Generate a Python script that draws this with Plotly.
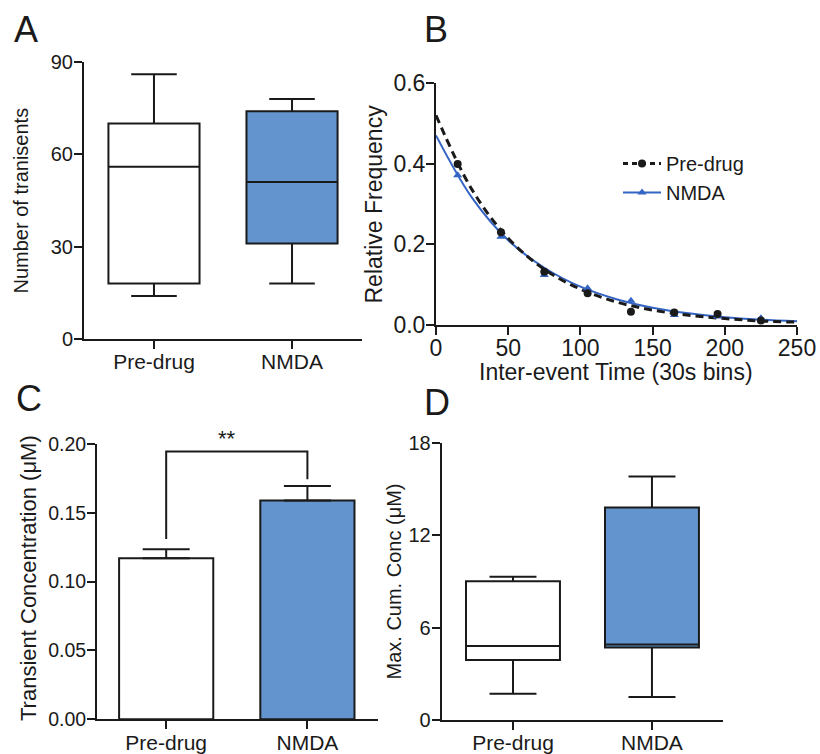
import plotly.graph_objects as go

# ---------------- data ----------------
categories = ["Pre-drug", "NMDA"]

# Panel A: box stats (Number of transients)
a_q1 = [18, 31]
a_median = [56, 51]
a_q3 = [70, 74]
a_low = [14, 18]
a_high = [86, 78]

# Panel B: inter-event time histogram + exponential fits
b_bins = [15, 45, 75, 105, 135, 165, 195, 225]
b_pre = [0.399, 0.230, 0.132, 0.079, 0.033, 0.031, 0.027, 0.011]
b_nmda = [0.371, 0.219, 0.124, 0.091, 0.060, 0.025, 0.021, 0.017]
fit_x = [0, 25, 50, 75, 100, 125, 150, 175, 200, 225, 250]
fit_pre = [0.52, 0.335, 0.215, 0.138, 0.089, 0.057, 0.037, 0.024, 0.016, 0.010, 0.007]
fit_nmda = [0.47, 0.315, 0.21, 0.142, 0.095, 0.064, 0.043, 0.029, 0.019, 0.013, 0.009]

# Panel C: mean +/- SEM transient concentration
c_mean = [0.117, 0.159]
c_sem = [0.0065, 0.0105]
bracket_y = [0.131, 0.1945, 0.1945, 0.1744]

# Panel D: box stats (Max cumulative concentration)
d_q1 = [3.9, 4.7]
d_median = [4.8, 4.9]
d_q3 = [9.0, 13.8]
d_low = [1.7, 1.5]
d_high = [9.3, 15.8]

# ---------------- styles ----------------
W, H = 820, 754
FONT = "Liberation Sans, Arial, sans-serif"
INK = "#1a1a1a"
BLUE_FILL = "#6394cd"
BLUE_LINE = "#3464c4"
fills = ["white", BLUE_FILL]


def px_x(p):
    return p / W


def px_y(p):
    return 1 - p / H


fig = go.Figure()

# Panel A boxes
for i in range(2):
    fig.add_trace(go.Box(
        x=[i], q1=[a_q1[i]], median=[a_median[i]], q3=[a_q3[i]],
        lowerfence=[a_low[i]], upperfence=[a_high[i]],
        width=0.66, whiskerwidth=0.5, fillcolor=fills[i],
        line=dict(color=INK, width=2), boxpoints=False,
        xaxis="x", yaxis="y", showlegend=False, hoverinfo="skip"))

# Panel B fits and points
fig.add_trace(go.Scatter(x=fit_x, y=fit_nmda, mode="lines", line=dict(color=BLUE_LINE, width=2, shape="spline"),
                         xaxis="x2", yaxis="y2", showlegend=False, hoverinfo="skip"))
fig.add_trace(go.Scatter(x=fit_x, y=fit_pre, mode="lines",
                         line=dict(color=INK, width=3, dash="8px,5px", shape="spline"),
                         xaxis="x2", yaxis="y2", showlegend=False, hoverinfo="skip"))
fig.add_trace(go.Scatter(x=b_bins, y=b_nmda, mode="markers",
                         marker=dict(symbol="triangle-up", size=8, color=BLUE_LINE),
                         xaxis="x2", yaxis="y2", showlegend=False, cliponaxis=False))
fig.add_trace(go.Scatter(x=b_bins, y=b_pre, mode="markers",
                         marker=dict(symbol="circle", size=8, color=INK),
                         xaxis="x2", yaxis="y2", showlegend=False, cliponaxis=False))
# legend entries
fig.add_trace(go.Scatter(x=[None], y=[None], mode="lines+markers", name="Pre-drug",
                         line=dict(color=INK, width=3, dash="5px,4px"),
                         marker=dict(symbol="circle", size=8, color=INK),
                         xaxis="x2", yaxis="y2"))
fig.add_trace(go.Scatter(x=[None], y=[None], mode="lines+markers", name="NMDA",
                         line=dict(color=BLUE_LINE, width=2),
                         marker=dict(symbol="triangle-up", size=8, color=BLUE_LINE),
                         xaxis="x2", yaxis="y2"))

# Panel C bars
for i in range(2):
    fig.add_trace(go.Bar(
        x=[i], y=[c_mean[i]], width=0.667,
        marker=dict(color=fills[i], line=dict(color=INK, width=2)),
        error_y=dict(type="data", array=[c_sem[i]], arrayminus=[0], symmetric=False,
                     color=INK, thickness=2, width=23.5),
        xaxis="x3", yaxis="y3", showlegend=False, hoverinfo="skip"))
fig.add_trace(go.Scatter(x=[0, 0, 1, 1], y=bracket_y, mode="lines",
                         line=dict(color=INK, width=2), xaxis="x3", yaxis="y3",
                         showlegend=False, hoverinfo="skip"))

# Panel D boxes
for i in range(2):
    fig.add_trace(go.Box(
        x=[i], q1=[d_q1[i]], median=[d_median[i]], q3=[d_q3[i]],
        lowerfence=[d_low[i]], upperfence=[d_high[i]],
        width=0.676, whiskerwidth=0.5, fillcolor=fills[i],
        line=dict(color=INK, width=2), boxpoints=False,
        xaxis="x4", yaxis="y4", showlegend=False, hoverinfo="skip"))

axis_common = dict(showline=True, linecolor=INK, linewidth=2, ticks="outside",
                   ticklen=8, tickwidth=2, tickcolor=INK, showgrid=False,
                   zeroline=False, fixedrange=True, automargin=False)

cat_x = dict(tickmode="array", tickvals=[0, 1], ticktext=categories,
             tickfont=dict(size=21, color=INK, family=FONT), ticklabelstandoff=-5)

fig.update_layout(
    width=W, height=H, margin=dict(l=0, r=0, t=0, b=0, autoexpand=False),
    paper_bgcolor="white", plot_bgcolor="white",
    font=dict(family=FONT, color=INK),
    boxmode="overlay", barmode="overlay",
    xaxis=dict(domain=[px_x(84), px_x(362)], range=[-0.507, 1.507], anchor="y", **cat_x, **axis_common),
    yaxis=dict(domain=[px_y(339), px_y(62)], range=[0, 90], anchor="x", tickvals=[0, 30, 60, 90],
               tickfont=dict(size=20, color=INK), ticklabelstandoff=-3, **axis_common),
    xaxis2=dict(domain=[px_x(436), px_x(797)], range=[0, 250], anchor="y2", tickvals=[0, 50, 100, 150, 200, 250],
                tickfont=dict(size=23, color=INK), ticklabelstandoff=-7, **axis_common),
    yaxis2=dict(domain=[px_y(325), px_y(83)], range=[0, 0.6], anchor="x2", tickvals=[0, 0.2, 0.4, 0.6],
                tickformat=".1f", tickfont=dict(size=23, color=INK), ticklabelstandoff=-4, **axis_common),
    xaxis3=dict(domain=[px_x(97), px_x(378)], range=[-0.49, 1.5], anchor="y3", **cat_x, **axis_common),
    yaxis3=dict(domain=[px_y(719.3), px_y(444)], range=[0, 0.2], anchor="x3",
                tickvals=[0, 0.05, 0.1, 0.15, 0.2], tickformat=".2f",
                tickfont=dict(size=19.5, color=INK), ticklabelstandoff=-3, **axis_common),
    xaxis4=dict(domain=[px_x(441.7), px_x(722.7)], range=[-0.513, 1.509], anchor="y4", **cat_x, **axis_common),
    yaxis4=dict(domain=[px_y(720), px_y(442.7)], range=[0, 18], anchor="x4", tickvals=[0, 6, 12, 18],
                tickfont=dict(size=20, color=INK), ticklabelstandoff=-3, **axis_common),
    legend=dict(x=px_x(618), y=px_y(144), xanchor="left", yanchor="top",
                bgcolor="rgba(0,0,0,0)", font=dict(size=20, color=INK, family=FONT),
                itemwidth=38, tracegroupgap=0),
)

ann = []
def add_text(text, x, y, size, angle=0, xanchor="center", yanchor="middle"):
    ann.append(dict(text=text, x=px_x(x), y=px_y(y), xref="paper", yref="paper",
                    showarrow=False, textangle=angle, xanchor=xanchor, yanchor=yanchor,
                    font=dict(size=size, color=INK, family=FONT)))

# axis titles
add_text("Number of tranisents", 20, 200.5, 20, -90)
add_text("Relative Frequency", 373.5, 204, 23, -90)
add_text("Inter-event Time (30s bins)", 616, 372, 23)
add_text("Transient Concentration (μM)", 28, 578, 22, -90)
add_text("Max. Cum. Conc (μM)", 393, 581.5, 20, -90)
# panel letters
add_text("A", 12, 30, 36, xanchor="left")
add_text("B", 422, 30, 36, xanchor="left")
add_text("C", 14, 398, 36, xanchor="left")
add_text("D", 422, 403, 36, xanchor="left")
# significance
add_text("**", 227, 438, 22)
fig.update_layout(annotations=ann)

fig.write_html(
    "out.html",
    config={"displayModeBar": False},
    post_script="document.body.style.margin='0px';document.body.style.padding='0px';"
                "document.documentElement.style.overflow='hidden';document.body.style.overflow='hidden';",
)
